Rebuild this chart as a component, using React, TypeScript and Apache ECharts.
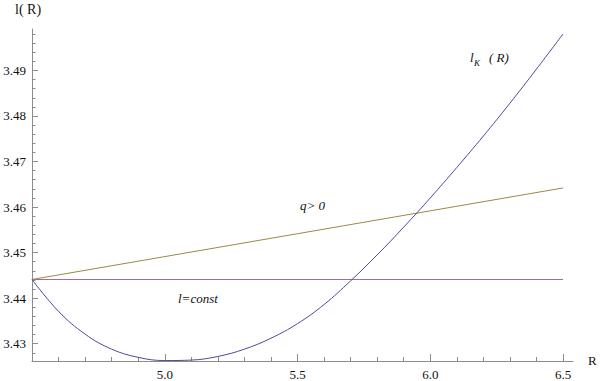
import React, { useEffect, useRef } from "react";
import * as echarts from "echarts";

// Data
const R = [4.5, 4.6, 4.7, 4.8, 4.9, 5.0, 5.1, 5.2, 5.3, 5.4, 5.5, 5.6, 5.7, 5.8, 5.9, 6.0, 6.1, 6.2, 6.3, 6.4, 6.5];
const lK = [3.4441, 3.4371, 3.4321, 3.4288, 3.427, 3.4263, 3.4264, 3.4272, 3.4288, 3.4312, 3.4344, 3.4386, 3.4438, 3.4495, 3.4556, 3.462, 3.4687, 3.4756, 3.4828, 3.4903, 3.498];
const constR = [4.5, 6.5];
const constL = [3.4441, 3.4441];
const qR = [4.5, 6.5];
const qL = [3.4441, 3.4642];

const xMajorTicks = [5.0, 5.5, 6.0, 6.5];
const xMinorTicks = [4.6, 4.7, 4.8, 4.9, 5.1, 5.2, 5.3, 5.4, 5.6, 5.7, 5.8, 5.9, 6.1, 6.2, 6.3, 6.4];
const yMajorTicks = [3.43, 3.44, 3.45, 3.46, 3.47, 3.48, 3.49];
const yMinorTicks = [
  3.428, 3.432, 3.434, 3.436, 3.438, 3.442, 3.444, 3.446, 3.448, 3.452, 3.454, 3.456, 3.458,
  3.462, 3.464, 3.466, 3.468, 3.472, 3.474, 3.476, 3.478, 3.482, 3.484, 3.486, 3.488,
  3.492, 3.494, 3.496, 3.498,
];

const X_MIN = 4.5;
const X_MAX = 6.5376;
const Y_MIN = 3.4262;
const Y_MAX = 3.4991;

const SERIF = "'Liberation Serif'";
const AXIS_COLOR = "#8c8c8c";

export default function App() {
  const ref = useRef<HTMLDivElement>(null);

  useEffect(() => {
    if (!ref.current) return;
    const chart = echarts.init(ref.current, null, { renderer: "svg" });

    const axisBase = (type: "x" | "y") => ({
      type: "value" as const,
      min: type === "x" ? X_MIN : Y_MIN,
      max: type === "x" ? X_MAX : Y_MAX,
      position: type === "x" ? "bottom" : "left",
      splitLine: { show: false },
    });

    const txt = (text: string, left: number, top: number, size: number, italic: boolean) => ({
      type: "text",
      left,
      top,
      style: {
        text,
        fontFamily: SERIF,
        fontSize: size,
        fontStyle: italic ? "italic" : "normal",
        fill: "#111",
      },
    });

    const option: any = {
      animation: false,
      backgroundColor: "#ffffff",
      textStyle: { fontFamily: SERIF },
      grid: { left: 32, right: 27, top: 29, bottom: 20, containLabel: false, outerBoundsMode: "none" },
      xAxis: [
        {
          ...axisBase("x"),
          axisLine: { show: true, lineStyle: { color: AXIS_COLOR, width: 1 } },
          axisTick: { show: true, inside: true, length: 7, customValues: xMajorTicks, lineStyle: { color: AXIS_COLOR } },
          axisLabel: {
            show: true,
            customValues: xMajorTicks,
            formatter: (v: number) => v.toFixed(1),
            fontFamily: SERIF,
            fontSize: 13,
            color: "#111",
            margin: 7,
          },
        },
        {
          ...axisBase("x"),
          axisLine: { show: false },
          axisTick: { show: true, inside: true, length: 4, customValues: xMinorTicks, lineStyle: { color: AXIS_COLOR } },
          axisLabel: { show: false },
        },
      ],
      yAxis: [
        {
          ...axisBase("y"),
          axisLine: { show: true, lineStyle: { color: AXIS_COLOR, width: 1 } },
          axisTick: { show: true, inside: true, length: 6, customValues: yMajorTicks, lineStyle: { color: AXIS_COLOR } },
          axisLabel: {
            show: true,
            customValues: yMajorTicks,
            formatter: (v: number) => v.toFixed(2),
            fontFamily: SERIF,
            fontSize: 13,
            color: "#111",
            margin: 6,
          },
        },
        {
          ...axisBase("y"),
          axisLine: { show: false },
          axisTick: { show: true, inside: true, length: 3.5, customValues: yMinorTicks, lineStyle: { color: AXIS_COLOR } },
          axisLabel: { show: false },
        },
      ],
      series: [
        {
          name: "const",
          type: "line",
          xAxisIndex: 0,
          yAxisIndex: 0,
          data: constR.map((r, i) => [r, constL[i]]),
          showSymbol: false,
          clip: false,
          lineStyle: { color: "#a06a96", width: 1 },
        },
        {
          name: "q",
          type: "line",
          xAxisIndex: 0,
          yAxisIndex: 0,
          data: qR.map((r, i) => [r, qL[i]]),
          showSymbol: false,
          clip: false,
          lineStyle: { color: "#9a8a48", width: 1 },
        },
        {
          name: "lK",
          type: "line",
          xAxisIndex: 0,
          yAxisIndex: 0,
          data: R.map((r, i) => [r, lK[i]]),
          smooth: 0.4,
          showSymbol: false,
          clip: false,
          lineStyle: { color: "#4a4aa0", width: 1 },
        },
      ],
      graphic: [
        txt("l( R)", 15, 2, 14, false),
        txt("R", 588, 354, 13, false),
        txt("l", 470, 51, 13, true),
        txt("K", 474, 58, 9, true),
        txt("( R)", 489, 51, 13, true),
        txt("q> 0", 300, 199, 13, true),
        txt("l=const", 178, 292, 13, true),
      ],
    };

    chart.setOption(option);
    return () => chart.dispose();
  }, []);

  return (
    <div
      ref={ref}
      style={{ position: "fixed", left: 0, top: 0, width: 600, height: 381, background: "#fff" }}
    />
  );
}
